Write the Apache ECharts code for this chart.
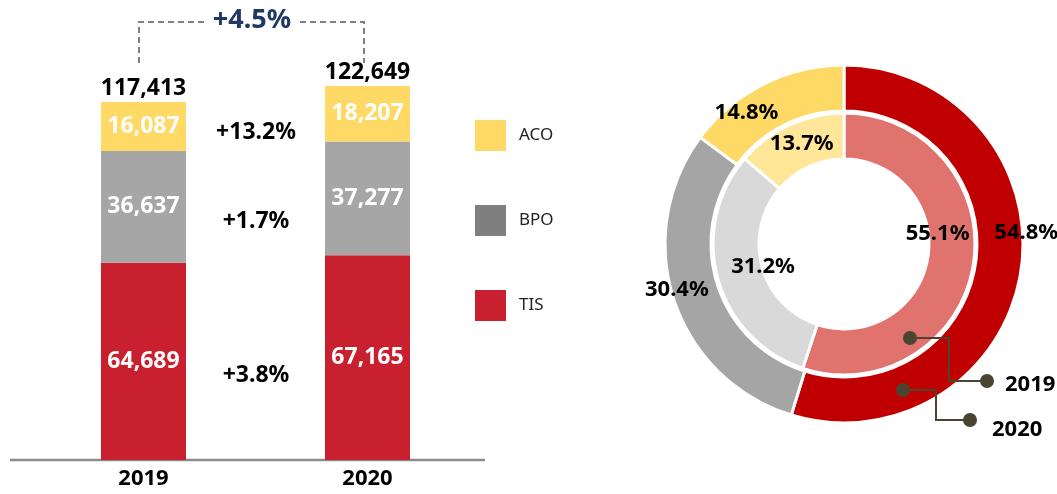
<!DOCTYPE html>
<html>
<head>
<meta charset="utf-8">
<script src="https://cdn.jsdelivr.net/npm/echarts@6/dist/echarts.min.js"></script>
<style>
  html, body { margin: 0; padding: 0; background: #fff; }
  #chart { width: 1057px; height: 494px; }
</style>
</head>
<body>
<div id="chart"></div>
<script>
// data
const years = ['2019', '2020'];
const tis = [64689, 67165];
const bpo = [36637, 37277];
const aco = [16087, 18207];
const totals = [117413, 122649];
const segments = ['ACO', 'BPO', 'TIS'];
const growthLabels = ['+13.2%', '+1.7%', '+3.8%'];
const totalGrowth = '+4.5%';

const FONT = 'Noto Sans';
const colors = { TIS: '#c8202f', BPO: '#a6a6a6', ACO: '#ffd966' };
const legendColors = { TIS: '#c8202f', BPO: '#7f7f7f', ACO: '#ffd966' };
const outerColors = { TIS: '#c00000', BPO: '#a5a5a5', ACO: '#ffd966' };
const innerColors = { TIS: '#e0736e', BPO: '#d9d9d9', ACO: '#ffe699' };

const fmt = v => v.toLocaleString('en-US');

const barLabel = {
    show: true,
    color: '#fff',
    fontWeight: 'bold',
    fontSize: 23,
    fontFamily: FONT,
    formatter: p => fmt(p.value)
};

function barSeries(name, values) {
    return {
        name: name,
        type: 'bar',
        stack: 'total',
        barWidth: 85,
        data: values,
        itemStyle: { color: colors[name] },
        label: barLabel,
        emphasis: { disabled: true }
    };
}

// label nudges (px) so the pie labels sit where the original put them
const outerNudge = [[25, -35], [-16, -4], [-26, 11]];
const innerNudge = [[-16, -28], [26, -7], [4, 1]];

function pieSeries(idx, radius, palette, nudge) {
    const order = ['TIS', 'BPO', 'ACO'];
    const src = { TIS: tis, BPO: bpo, ACO: aco };
    return {
        type: 'pie',
        center: [844, 244],
        radius: radius,
        startAngle: 90,
        percentPrecision: 1,
        emphasis: { disabled: true },
        itemStyle: { borderColor: '#fff', borderWidth: 3 },
        label: {
            show: true,
            position: 'inside',
            formatter: '{d}%',
            color: '#000',
            fontWeight: 'bold',
            fontSize: 22,
            fontFamily: FONT
        },
        labelLine: { show: false },
        labelLayout: p => ({ dx: nudge[p.dataIndex][0], dy: nudge[p.dataIndex][1] }),
        data: order.map(n => ({ name: n, value: src[n][idx], itemStyle: { color: palette[n] } }))
    };
}

const chart = echarts.init(document.getElementById('chart'));

const boldText = (text, x, y, size, fill, align) => ({
    type: 'text',
    x: x, y: y,
    z: 100,
    style: {
        text: text,
        fill: fill || '#000',
        font: 'bold ' + size + 'px "' + FONT + '"',
        align: align || 'center',
        verticalAlign: 'middle'
    }
});

const connColor = '#4b4430';
const connector = pts => ({
    type: 'polyline', z: 100,
    shape: { points: pts },
    style: { stroke: connColor, lineWidth: 2, fill: null }
});
const dot = (x, y) => ({ type: 'circle', z: 101, shape: { cx: x, cy: y, r: 7 }, style: { fill: connColor } });

chart.setOption({
    animation: false,
    textStyle: { fontFamily: FONT },
    grid: { left: 31.5, width: 448, top: 33, bottom: 34 },
    legend: {
        orient: 'vertical',
        left: 475,
        top: 120,
        padding: 0,
        itemWidth: 31,
        itemHeight: 31,
        itemGap: 54,
        icon: 'rect',
        selectedMode: false,
        textStyle: { fontSize: 17, color: '#222', fontFamily: FONT, padding: [0, 0, 0, 8] },
        data: segments.map(n => ({ name: n, itemStyle: { color: legendColors[n] } }))
    },
    xAxis: {
        type: 'category',
        data: years,
        axisLine: { show: false },
        axisTick: { show: false },
        axisLabel: { color: '#000', fontWeight: 'bold', fontSize: 22, fontFamily: FONT, margin: 8 }
    },
    yAxis: { type: 'value', min: 0, max: 140000, show: false },
    series: [
        barSeries('TIS', tis),
        barSeries('BPO', bpo),
        barSeries('ACO', aco),
        {
            name: 'Total',
            type: 'bar',
            stack: 'total',
            barWidth: 85,
            data: totals.map(() => 0),
            itemStyle: { color: 'transparent' },
            label: {
                show: true,
                position: 'top',
                distance: 2,
                color: '#000',
                fontWeight: 'bold',
                fontSize: 23,
                fontFamily: FONT,
                formatter: p => fmt(totals[p.dataIndex])
            },
            emphasis: { disabled: true }
        },
        pieSeries(1, [133, 179], outerColors, outerNudge),
        pieSeries(0, [85, 131], innerColors, innerNudge)
    ],
    graphic: [
        // category axis line, longer than the plot band
        { type: 'line', shape: { x1: 10, y1: 460, x2: 485, y2: 460 }, style: { stroke: '#8c8c8c', lineWidth: 2.5 } },
        // bracket for total growth
        { type: 'polyline', shape: { points: [[139, 63], [139, 22], [205, 22]] },
          style: { stroke: '#7f7f7f', lineWidth: 2, lineDash: [6, 4], fill: null } },
        { type: 'polyline', shape: { points: [[300, 22], [364, 22], [364, 63]] },
          style: { stroke: '#7f7f7f', lineWidth: 2, lineDash: [6, 4], fill: null } },
        boldText(totalGrowth, 252, 20, 27, '#1f3864'),
        // segment growth
        boldText(growthLabels[0], 256, 132, 23),
        boldText(growthLabels[1], 256, 221, 23),
        boldText(growthLabels[2], 256, 375, 23),
        // ring callouts
        connector([[910, 338], [949, 338], [949, 381], [987, 381]]),
        dot(910, 338), dot(987, 381),
        boldText(years[0], 1005, 385, 22, '#000', 'left'),
        connector([[903, 390], [936, 390], [936, 420], [970, 420]]),
        dot(903, 390), dot(970, 420),
        boldText(years[1], 992, 430, 22, '#000', 'left')
    ]
});

window.addEventListener('resize', () => chart.resize());
</script>
</body>
</html>
